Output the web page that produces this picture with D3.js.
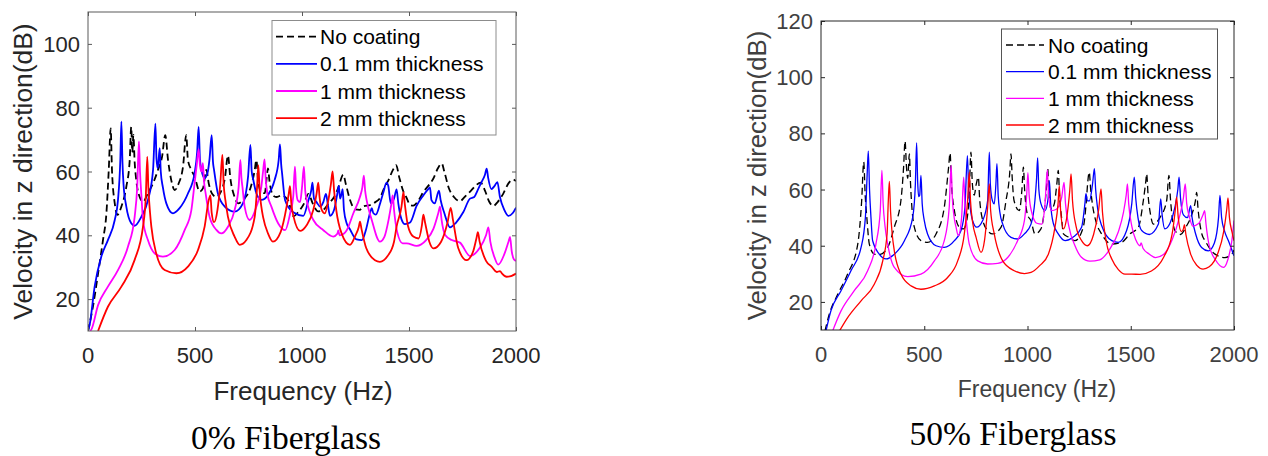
<!DOCTYPE html>
<html><head><meta charset="utf-8">
<script src="https://cdn.jsdelivr.net/npm/d3@7"></script>
<style>
html,body{margin:0;padding:0;background:#fff;}
svg{display:block;font-family:"Liberation Sans",Arial,sans-serif;}
</style></head><body>
<svg id="chart" width="1268" height="456"></svg>
<script>
// ---------------- data ----------------
const seriesNames = ["No coating", "0.1 mm thickness", "1 mm thickness", "2 mm thickness"];
const captions = ["0% Fiberglass", "50% Fiberglass"];
const xTicks = [0, 500, 1000, 1500, 2000];
const yTicksLeft = [20, 40, 60, 80, 100];
const yTicksRight = [20, 40, 60, 80, 100, 120];
const xLabel = "Frequency (Hz)";
const yLabel = "Velocity in z direction(dB)";

// 0% Fiberglass  [frequency Hz, dB]
const left_noCoating = [[0,10],[23,17.6],[47,28],[70,38.5],[86,46.9],[97,60.5],[106,73.5],[112,60.5],[125,50],[137,46.4],[156,49],[179,55.2],[195,63.6],[202,74],[207,66],[212,71.5],[218,63],[226,57],[241,52.1],[257,50.5],[280,53.2],[304,56.3],[327,60.5],[346,64.6],[361,71.4],[374,63.6],[389,57.3],[405,54.2],[424,56.3],[444,61.5],[459,71.4],[467,63.6],[483,60.5],[498,58.4],[522,53.7],[537,54.7],[553,60.5],[565,56],[580,53],[600,52],[620,53.5],[640,58],[654,65],[665,58],[685,52],[701,50],[730,51.5],[760,55],[778,60],[787,63.6],[795,57],[810,53.5],[826,53.2],[835,58],[841,61],[848,57],[865,52.5],[880,52],[905,52.5],[935,51],[960,46],[985,47.5],[1010,50],[1030,53],[1050,50],[1075,47.5],[1100,48],[1125,50],[1150,52],[1170,55],[1193,59],[1205,56],[1225,51],[1248,48.1],[1270,48],[1287,49.1],[1320,49.5],[1345,50.5],[1364,51.6],[1385,55],[1402,57],[1425,60.5],[1440,62],[1455,58],[1475,53.5],[1489,51.7],[1505,49.5],[1520,49.3],[1545,51],[1567,53.6],[1590,55.5],[1614,57.8],[1635,61],[1653,62.5],[1665,60],[1685,55],[1710,52],[1738,50.7],[1760,52],[1790,54],[1815,55.8],[1835,56.5],[1855,54],[1875,50.5],[1894,49.2],[1915,50.5],[1940,53],[1964,56.2],[1985,57.5],[2000,57]];
const left_t01 = [[0,10],[8,12],[31,23.9],[62,33.3],[93,38.5],[125,44.8],[140,51],[151,63.6],[156,75.6],[161,63],[166,56],[179,49],[202,43.8],[218,43],[249,45.8],[280,51],[304,60.5],[315,75],[320,64],[326,61],[335,67.3],[340,60],[350,55],[366,50],[397,46.9],[428,48.5],[467,53.1],[498,59.4],[510,66],[517,74],[523,64],[530,60.5],[545,57.9],[560,60],[568,64],[578,71.4],[584,63],[589,60.5],[607,53.1],[639,49],[685,47.4],[724,50],[748,58.4],[759,68.3],[765,60],[772,57.5],[787,53.1],[810,51.1],[840,52.5],[872,57.3],[891,63.6],[897,68.5],[903,62],[907,59.4],[921,51],[959,47.2],[1006,46.1],[1030,51],[1043,54],[1049,56.5],[1056,51.5],[1068,50.4],[1085,49],[1100,50.5],[1112,53],[1120,50],[1131,46.1],[1150,48],[1165,53],[1172,55.5],[1178,51.5],[1185,53],[1190,54.5],[1196,48],[1209,43.7],[1224,41.9],[1255,38.7],[1280,38.5],[1300,42],[1318,47.1],[1326,48.5],[1333,47],[1345,46.5],[1365,50],[1380,53.4],[1395,56.5],[1403,55.5],[1415,50],[1430,51.5],[1442,54.4],[1450,50],[1465,45],[1481,43.5],[1505,44],[1536,49.3],[1567,52.5],[1590,54.5],[1598,55],[1605,51],[1620,50],[1640,54],[1648,51],[1665,47],[1692,42.5],[1720,44],[1754,47.3],[1785,51.5],[1805,52],[1820,54],[1839,56.7],[1855,59],[1863,60.9],[1870,58],[1885,54.5],[1900,55.5],[1913,56.7],[1925,52],[1945,48],[1964,46.1],[1985,47],[2000,48.7]];
const left_t1 = [[10,10],[16,10.5],[47,18.1],[93,23.9],[140,29.1],[187,36.5],[218,45.8],[230,55.2],[238,69.4],[243,60],[250,52],[257,44.8],[280,38.5],[312,34.3],[350,33.3],[405,35.4],[452,41.7],[483,47.9],[498,56.3],[508,62],[517,67],[523,62],[530,60],[537,62.6],[542,57],[550,53],[568,45.8],[600,41.7],[623,40.6],[654,42.7],[685,47.9],[704,55.2],[712,63.6],[717,58],[722,55],[732,49],[755,44.8],[787,49],[810,55.2],[818,60],[825,63.8],[830,58],[838,53],[857,49],[889,43.7],[921,41.6],[945,47],[959,52.1],[967,61.5],[972,55],[980,51],[991,50.4],[1000,55],[1009,61.5],[1015,54],[1022,51],[1053,44.8],[1100,41.6],[1146,39.6],[1165,40.5],[1170,41.5],[1175,40],[1195,40.5],[1209,41.6],[1240,46.9],[1271,52.1],[1282,55],[1289,58.7],[1295,54],[1302,51],[1326,44.8],[1364,38],[1385,39.5],[1405,45],[1418,50],[1424,52.5],[1430,48],[1445,41],[1470,37.5],[1489,37.5],[1536,36.7],[1580,38.5],[1614,42],[1637,47],[1645,49],[1652,45],[1670,40],[1700,38.5],[1738,37.7],[1785,33.5],[1830,36],[1860,40],[1871,42.5],[1880,38],[1900,33],[1917,30.8],[1945,34],[1965,38],[1972,39.5],[1980,35],[1990,32.5],[2000,32]];
const left_t2 = [[47,10],[93,17.6],[156,23.9],[218,32.3],[257,42.7],[270,52],[277,64.6],[282,55],[290,47],[296,42.7],[319,34.3],[358,29.1],[413,28.1],[467,30.2],[514,35.4],[545,42.7],[564,51],[572,52.5],[578,47],[589,44.1],[605,48],[618,56],[628,65.2],[634,56],[642,51],[654,45.8],[685,39.6],[709,37],[740,38.5],[779,45.8],[790,55],[796,62],[802,54],[810,49],[818,45.8],[841,40.6],[864,38],[900,41],[928,49],[938,53],[944,55.4],[950,50],[960,46],[991,41.4],[1020,43],[1053,48],[1068,53],[1076,56.5],[1082,52],[1092,48],[1107,46.9],[1120,50],[1135,56],[1143,60],[1150,54],[1160,48],[1185,40.6],[1224,37],[1250,40],[1265,42.5],[1271,44.3],[1278,42],[1300,36],[1341,32.2],[1364,31.7],[1400,33.5],[1430,38],[1442,42.7],[1465,49],[1474,53.5],[1480,50],[1495,43],[1520,39.6],[1545,39],[1560,43],[1567,46.5],[1575,44],[1595,38],[1614,35.9],[1650,38],[1680,44],[1695,48.6],[1705,45],[1730,36],[1769,32.2],[1800,35],[1815,39],[1822,41],[1830,38],[1860,32],[1886,30.2],[1910,28.5],[1925,28.8],[1935,28],[1956,27],[1980,27.3],[2000,28]];

// 50% Fiberglass  [frequency Hz, dB]
const right_noCoating = [[19,9.6],[40,15.6],[81,22.7],[129,29.9],[178,40.6],[197,56.1],[207,69.8],[214,58],[222,50],[234,40.6],[258,37],[282,36.8],[323,39.4],[355,46.6],[387,56.1],[400,68],[407,77.3],[414,68],[420,64],[428,72.7],[433,63],[436,58.5],[452,46.6],[484,41.8],[516,41.2],[557,44.2],[597,53.7],[618,68],[625,73],[632,62],[646,52.5],[670,46.6],[690,46],[702,47.7],[718,58.5],[726,73.3],[733,62],[742,58],[752,62],[762,64.4],[768,57],[780,50],[807,45.4],[831,44.2],[872,46.6],[896,56.1],[914,66],[920,72.7],[926,64],[935,56],[960,52.5],[973,60],[980,68],[986,60],[1000,51],[1017,48.9],[1036,44.2],[1065,46],[1085,55],[1093,62],[1098,67.4],[1104,58],[1115,53],[1130,55],[1142,62],[1149,66.8],[1155,58],[1165,50],[1174,44.2],[1200,43],[1230,41.8],[1270,46.6],[1285,56],[1291,62],[1299,66.2],[1306,60],[1316,54],[1330,49],[1359,44.2],[1408,40.6],[1456,41.2],[1496,44.2],[1537,46.6],[1561,56.1],[1573,63],[1577,65.6],[1584,58],[1596,51],[1609,47.7],[1642,50.1],[1674,56.1],[1685,65],[1692,57],[1714,45.4],[1740,44],[1770,47],[1795,51],[1813,56],[1819,59],[1826,53],[1845,44],[1860,41.8],[1908,37],[1956,35.8],[1989,37],[2000,38.5]];
const right_t01 = [[24,9.6],[48,16.8],[97,24],[145,31.1],[194,39.4],[215,50.1],[223,64.4],[229,73.7],[235,60],[242,50],[250,41.8],[282,37],[315,35.3],[355,37],[404,41.8],[444,50.1],[457,62],[463,76.6],[468,63],[473,57.5],[478,58],[484,65],[490,55],[500,49],[516,44.2],[557,40],[597,39.4],[646,41.8],[678,45.4],[697,53.7],[709,72.1],[715,60],[722,54],[734,49],[754,46.6],[783,49],[807,56.1],[815,73.3],[820,62],[830,56],[839,54.9],[847,62],[852,69.2],[858,58],[866,52],[880,47.7],[920,43],[952,42.4],[985,44.2],[1017,47.7],[1036,56.1],[1044,64],[1049,71.3],[1055,60],[1065,55],[1085,52.5],[1100,57],[1106,63.2],[1112,55],[1125,48],[1149,44.2],[1182,41.8],[1220,43],[1262,46.6],[1278,55],[1283,58.5],[1290,56],[1300,56],[1315,62],[1324,67.4],[1330,60],[1340,53],[1360,47],[1408,41.8],[1440,41.2],[1480,45.4],[1505,55],[1517,64.4],[1524,57],[1535,50],[1553,45.4],[1590,44],[1634,47.7],[1645,56.7],[1652,51],[1665,46],[1690,48],[1714,53.7],[1728,60],[1734,64.4],[1741,57],[1755,51],[1775,50],[1790,54.3],[1797,50],[1815,44],[1843,39.4],[1876,38.2],[1905,41],[1925,50],[1932,57.9],[1940,50],[1955,45],[1973,41.8],[2000,36.4]];
const right_t1 = [[56,9.6],[97,16.8],[161,24],[226,31.1],[266,40.6],[287,52.5],[295,66.8],[301,55],[310,47],[323,40.6],[355,32.3],[420,29],[484,29.9],[549,34.6],[597,41.8],[621,53.7],[630,68.6],[636,57],[645,50],[654,46.6],[665,43.6],[681,50.1],[691,64.4],[697,55],[705,48],[718,40.6],[759,34.6],[807,33.5],[856,33.7],[904,35.8],[952,41.8],[985,48.9],[996,58],[1002,66],[1008,58],[1020,52],[1045,48],[1069,47.7],[1085,55],[1096,67],[1102,58],[1117,52.5],[1140,53],[1165,57],[1177,62.5],[1184,55],[1200,47],[1230,40],[1260,36],[1302,34.5],[1350,35],[1400,39],[1440,45],[1465,52],[1478,58],[1484,62],[1490,55],[1505,47],[1525,42],[1545,40],[1550,41],[1560,39],[1590,37],[1620,35.8],[1660,37],[1700,42],[1735,50],[1755,57],[1764,62],[1771,55],[1785,50],[1800,47],[1830,48],[1850,51],[1858,52.5],[1864,48],[1880,40],[1910,35],[1950,32.3],[1970,35],[1990,42],[2000,49]];
const right_t2 = [[89,9.6],[129,14.4],[194,20.4],[258,26.3],[299,34.6],[320,44.2],[326,56.1],[331,62.9],[337,52],[345,44],[355,38.2],[387,29.9],[436,25.7],[484,24.5],[549,25.7],[613,28.7],[662,34.6],[694,44.2],[710,56.1],[718,66.2],[724,56],[735,48],[751,43],[775,37.6],[792,42],[807,53.7],[815,62],[821,53],[839,44.2],[880,34.6],[936,31.1],[985,30.1],[1017,30.5],[1060,33],[1101,37],[1133,46.6],[1148,55],[1154,61.4],[1160,53],[1174,46],[1190,50],[1205,60],[1211,65.6],[1218,56],[1235,47],[1262,41.8],[1290,40],[1320,44],[1345,53],[1356,60.2],[1363,52],[1380,42],[1410,35],[1440,31.5],[1472,29.9],[1505,29.9],[1545,29.8],[1600,31],[1660,36],[1700,44],[1716,53],[1722,57.3],[1730,50],[1745,45],[1755,46],[1760,47.5],[1767,44],[1790,37],[1820,33],[1850,31.7],[1880,32.5],[1920,37],[1950,45],[1965,53],[1971,57],[1978,50],[1990,45],[2000,41.8]];

// ---------------- layout / style ----------------
const seriesStyle = [
  {color:"#000000", dash:"7,4"},
  {color:"#0000ff", dash:null},
  {color:"#ff00ff", dash:null},
  {color:"#ff0000", dash:null}
];
const panels = [
  {id:"L", x0:88, x1:516, y0:12, y1:331, yDomain:[10,110], yTicks:yTicksLeft,
   series:[left_noCoating,left_t01,left_t1,left_t2], lineW:1.8,
   txt:"#262626", box:"#5a5a5a",
   yTickX:80, xTickBase:363, xLab:{x:303,y:400,size:26}, yLab:{x:32,y:171.5,size:26.4},
   cap:{x:286,y:449,text:captions[0]},
   leg:{x:272,y:20.5,w:224,h:114.5,lineX0:276,lineX1:317,textX:320,rows:[36.7,63.8,91,118.2],size:21,stroke:"#8c8c8c"}},
  {id:"R", x0:821, x1:1234, y0:21, y1:330, yDomain:[10,120], yTicks:yTicksRight,
   series:[right_noCoating,right_t01,right_t1,right_t2], lineW:1.3,
   txt:"#404040", box:"#262626",
   yTickX:813, xTickBase:362, xLab:{x:1037,y:397,size:23}, yLab:{x:766,y:175.5,size:25.8},
   cap:{x:1013,y:445,text:captions[1]},
   leg:{x:1001.5,y:29,w:216,h:110,lineX0:1006,lineX1:1044,textX:1048,rows:[45,71.7,98.3,125],size:21,stroke:"#555555"}}
];

const svg = d3.select("#chart");

panels.forEach(p => {
  const x = d3.scaleLinear().domain([0,2000]).range([p.x0,p.x1]);
  const y = d3.scaleLinear().domain(p.yDomain).range([p.y1,p.y0]);
  const g = svg.append("g");

  svg.append("clipPath").attr("id","clip"+p.id)
    .append("rect").attr("x",p.x0).attr("y",p.y0).attr("width",p.x1-p.x0).attr("height",p.y1-p.y0);

  const line = d3.line().x(d=>x(d[0])).y(d=>y(d[1])).curve(d3.curveMonotoneX);
  const lg = g.append("g").attr("clip-path","url(#clip"+p.id+")");
  p.series.forEach((s,i) => {
    lg.append("path").datum(s).attr("d",line)
      .attr("fill","none").attr("stroke",seriesStyle[i].color)
      .attr("stroke-width",p.lineW).attr("stroke-linejoin","round")
      .attr("stroke-dasharray",seriesStyle[i].dash);
  });

  const tl = 4;
  const axB = g.append("g").attr("transform",`translate(0,${p.y1})`)
    .call(d3.axisBottom(x).tickValues(xTicks).tickSize(-tl).tickFormat(""));
  const axT = g.append("g").attr("transform",`translate(0,${p.y0})`)
    .call(d3.axisTop(x).tickValues(xTicks).tickSize(-tl).tickFormat(""));
  const axL = g.append("g").attr("transform",`translate(${p.x0},0)`)
    .call(d3.axisLeft(y).tickValues(p.yTicks).tickSize(-tl).tickFormat(""));
  const axR = g.append("g").attr("transform",`translate(${p.x1},0)`)
    .call(d3.axisRight(y).tickValues(p.yTicks).tickSize(-tl).tickFormat(""));
  [axB,axT,axL,axR].forEach(a => {
    a.select(".domain").remove();
    a.selectAll(".tick line").attr("stroke",p.box).attr("stroke-width",1);
  });
  g.append("rect").attr("x",p.x0).attr("y",p.y0).attr("width",p.x1-p.x0).attr("height",p.y1-p.y0)
    .attr("fill","none").attr("stroke",p.box).attr("stroke-width",1);

  g.selectAll(".xtl").data(xTicks).enter().append("text")
    .attr("x",d=>x(d)).attr("y",p.xTickBase).attr("text-anchor","middle")
    .attr("font-size",22).attr("fill",p.txt).text(d=>d);
  g.selectAll(".ytl").data(p.yTicks).enter().append("text")
    .attr("x",p.yTickX).attr("y",d=>y(d)+8).attr("text-anchor","end")
    .attr("font-size",22).attr("fill",p.txt).text(d=>d);

  g.append("text").attr("x",p.xLab.x).attr("y",p.xLab.y).attr("text-anchor","middle")
    .attr("font-size",p.xLab.size).attr("fill",p.txt).text(xLabel);
  g.append("text").attr("transform",`translate(${p.yLab.x},${p.yLab.y}) rotate(-90)`)
    .attr("text-anchor","middle").attr("font-size",p.yLab.size).attr("fill",p.txt).text(yLabel);

  const L = p.leg;
  g.append("rect").attr("x",L.x).attr("y",L.y).attr("width",L.w).attr("height",L.h)
    .attr("fill","#fff").attr("stroke",L.stroke).attr("stroke-width",1);
  seriesNames.forEach((n,i) => {
    g.append("line").attr("x1",L.lineX0).attr("x2",L.lineX1).attr("y1",L.rows[i]).attr("y2",L.rows[i])
      .attr("stroke",seriesStyle[i].color).attr("stroke-width",p.lineW)
      .attr("stroke-dasharray",seriesStyle[i].dash);
    g.append("text").attr("x",L.textX).attr("y",L.rows[i]+7.5).attr("font-size",L.size)
      .attr("fill","#000").text(n);
  });

  svg.append("text").attr("x",p.cap.x).attr("y",p.cap.y).attr("text-anchor","middle")
    .attr("font-family","'Liberation Serif','Times New Roman',serif").attr("font-size",33.5)
    .attr("fill","#000").text(p.cap.text);
});
</script>
</body></html>
